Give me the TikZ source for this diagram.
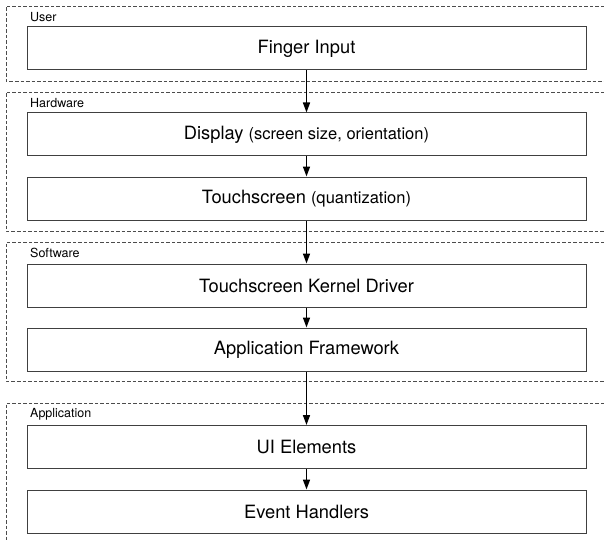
\documentclass[tikz,border=0pt]{standalone}
\usepackage{fontspec}
\setmainfont{TeX Gyre Heros}
\usetikzlibrary{arrows.meta}
\tikzset{
  layerbox/.style={draw=black!75, line width=1pt, fill=white, minimum width=559pt, minimum height=43pt, inner sep=0pt, font=\fontsize{18.3}{22}\selectfont},
  grouplbl/.style={anchor=west, inner sep=0pt, font=\fontsize{12.5}{15}\selectfont},
  groupline/.style={draw=black!70, line width=0.9pt, dash pattern=on 3.5pt off 2pt},
  flow/.style={-{Triangle[length=10pt,width=7pt]}, line width=1.6pt, black},
}
\newcommand{\smalltxt}[1]{{\fontsize{16.5}{19}\selectfont #1}}
\begin{document}
\begin{tikzpicture}[x=1pt,y=-1pt]
\useasboundingbox (0,0) rectangle (604,540);
% groups
\draw[groupline] (604,6) -- (6,6) -- (6,81) -- (604,81);
\draw[groupline] (604,92) -- (6,92) -- (6,231) -- (604,231);
\draw[groupline] (604,242) -- (6,242) -- (6,381) -- (604,381);
\draw[groupline] (604,403) -- (6,403) -- (6,540);
\node[grouplbl] (lu) at (30,17) {User};
\node[grouplbl] (lh) at (30,103) {Hardware};
\node[grouplbl] (ls) at (30,253) {Software};
\node[grouplbl] (la) at (30,414) {Application};
% boxes
\node[layerbox] (finger) at (306.5,48.5) {Finger Input};
\node[layerbox] (display) at (306.5,134.5) {Display \smalltxt{(screen size, orientation)}};
\node[layerbox] (touch) at (306.5,198.5) {Touchscreen \smalltxt{(quantization)}};
\node[layerbox] (kernel) at (306.5,285.5) {Touchscreen Kernel Driver};
\node[layerbox] (frame) at (306.5,349.5) {Application Framework};
\node[layerbox] (ui) at (306.5,447) {UI Elements};
\node[layerbox] (event) at (306.5,511.5) {Event Handlers};
% arrows
\draw[flow] (finger) -- (display);
\draw[flow] (display) -- (touch);
\draw[flow] (touch) -- (kernel);
\draw[flow] (kernel) -- (frame);
\draw[flow] (frame) -- (ui);
\draw[flow] (ui) -- (event);
\end{tikzpicture}
\end{document}
